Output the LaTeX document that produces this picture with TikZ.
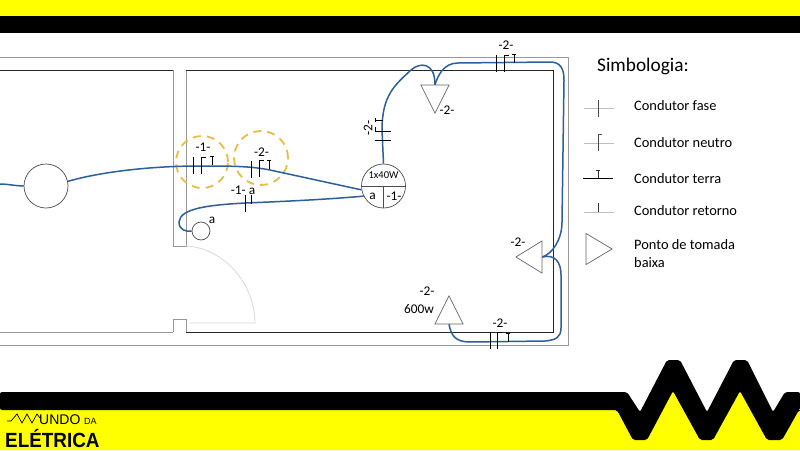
\documentclass[tikz,border=0pt]{standalone}
\usepackage{fontspec}
\setmainfont{Carlito}
\newfontfamily\logofont{Liberation Sans}
\usetikzlibrary{shapes.geometric}
\definecolor{amarelo}{HTML}{FFFF00}
\definecolor{fio}{HTML}{2F5F9A}
\definecolor{ouro}{HTML}{E6BE45}
\tikzset{
	parede/.style={draw=black!40, line width=0.9pt},
	interna/.style={draw=black!85, line width=0.9pt},
	cabo/.style={draw=fio, line width=1.5pt},
	traco/.style={draw=black, line width=0.9pt},
	rotulo/.style={inner sep=0pt, font=\fontsize{13.3}{13.3}\selectfont},
	legenda/.style={inner sep=0pt, anchor=west, font=\fontsize{14.4}{18}\selectfont, align=left},
	tomada/.style={draw=black!60, line width=0.7pt, isosceles triangle, isosceles triangle stretches, inner sep=0pt, anchor=apex, minimum width=28pt, minimum height=28pt},
	lampada/.style={draw=black!70, line width=0.7pt, circle, inner sep=0pt},
	marca/.style={draw=ouro, line width=1.8pt, dash pattern=on 8pt off 6pt, circle, inner sep=0pt}
}
\begin{document}
\begin{tikzpicture}[x=1pt,y=-1pt]
	\useasboundingbox (0,0) rectangle (800,450);
	% Faixas
	\fill[white] (0,0) rectangle (800,450);
	\fill[amarelo] (0,0) rectangle (800,16);
	\fill[black] (0,16) rectangle (800,33);
	\fill[amarelo] (0,405) -- (617,405) -- (633,435) -- (647,435) -- (673,387) -- (700,435) -- (713,435) -- (740,387) -- (767,435) -- (782,435) -- (800,405) -- (800,450) -- (0,450) -- cycle;
	\fill[black, rounded corners=2pt] (0,392) -- (627,392) -- (640,412) -- (667,360) -- (680,360) -- (707,412) -- (734,360) -- (747,360) -- (773,412) -- (785,392) -- (800,392) -- (800,410) -- (799,410) -- (782,440) -- (767,440) -- (740,391) -- (713,440) -- (700,440) -- (673,391) -- (647,440) -- (633,440) -- (617,410) -- (0,410) -- cycle;
	% Paredes
	\draw[parede] (0,57) -- (568,57) -- (568,345) -- (0,345);
	\draw[parede] (173,70) -- (173,246) -- (186,246) -- (186,70);
	\draw[parede] (173,332) -- (173,319) -- (186,319) -- (186,332);
	\draw[interna] (0,70) -- (173,70) (186,70) -- (553,70) -- (553,332) -- (186,332);
	\draw[parede] (0,332) -- (173,332);
	% Porta
	\draw[black!15, line width=0.8pt] (186,246) .. controls (225,248) and (255,285) .. (255,323) -- (189,323);
	% Lampadas e interruptor
	\node[lampada, minimum size=44pt] (lampE) at (46,186) {};
	\node[lampada, minimum size=44pt] (lampD) at (383.5,186) {};
	\node[lampada, minimum size=18pt] (inter) at (201,231) {};
	\draw[black!70, line width=0.7pt] (lampD.west) -- (lampD.east) (lampD.center) -- (lampD.south);
	\node[rotulo, font=\fontsize{10.5}{12}\selectfont] (pot) at (383.5,175.5) {1x40W};
	\node[rotulo] (retA) at (372.5,196) {a};
	\node[rotulo] (cirA) at (394,196) {-1-};
	\node[rotulo] (retB) at (212,220) {a};
	% Tomadas
	\node[tomada, shape border rotate=270] (tomC) at (435,114) {};
	\node[tomada, shape border rotate=180, minimum height=26pt, minimum width=32pt] (tomD) at (515,257) {};
	\node[tomada, shape border rotate=90] (tomB) at (449,295) {};
	% Marcas
	\node[marca, minimum size=52pt] (marcaA) at (202,162) {};
	\node[marca, minimum size=54pt] (marcaB) at (261,158) {};
	% Fios
	\coordinate (fioE) at (0,184);
	\draw[cabo] (fioE) .. controls (8,184) and (16,186) .. (lampE.west);
	\draw[cabo] (lampE.12) .. controls (100,172) and (150,166) .. (200,166) .. controls (230,166) and (250,166) .. (270,170) -- (lampD.190);
	\draw[cabo] (lampD.207) .. controls (320,200) and (270,202) .. (245,203) .. controls (210,205) and (180,208) .. (179,222) .. controls (179,230) and (186,232) .. (inter.west);
	\draw[cabo] (lampD.north) -- (382,130) .. controls (382,95) and (395,85) .. (411,70) .. controls (420,62) and (435,62) .. (tomC.north);
	\draw[cabo] (tomC.north) .. controls (438,75) and (444,63) .. (458,63) -- (550,62) .. controls (560,62) and (564,68) .. (564,80) -- (562,222) .. controls (562,240) and (552,254) .. (tomD.east);
	\draw[cabo] (tomD.east) .. controls (555,254) and (561,262) .. (561,275) -- (561,328) .. controls (561,338) and (555,340) .. (545,341) -- (470,342) .. controls (455,342) and (451,335) .. (tomB.south);
	% Fase, neutro, terra, retorno
	\foreach \x/\y in {193/157, 251/161, 245/195, 496/55, 490/332} {
		\draw[traco] (\x,\y) -- +(0,17);
	}
	\foreach \x/\y in {201/157, 259/160, 504/55, 497/332} {
		\draw[traco] (\x,\y+17) -- (\x,\y) -- +(4.5,0);
	}
	\foreach \x/\y in {212/156, 269/160, 514/54, 508/333} {
		\draw[traco] (\x,\y) -- +(0,9) (\x-2,\y) -- +(4,0);
	}
	\draw[traco] (251,195) -- (251,204);
	\draw[traco] (375,140) -- (391,140);
	\draw[traco] (391,131) -- (375,131) -- (375,127);
	\draw[traco] (375,120) -- (383,120) (375,118) -- (375,122);
	% Rotulos
	\foreach \n/\x/\y/\t in {ra/203/147/-1-, rb/261.5/152/-2-, rc/506/45/-2-, rd/447/110/-2-, re/518/242/-2-, rf/427/291/-2-, rg/419/309/600w, rh/500/323/-2-} {
		\node[rotulo] (\n) at (\x,\y) {\t};
	}
	\node[rotulo] (ri) at (243,190) {-1- a};
	\node[rotulo, rotate=90] (rj) at (368,128) {-2-};
	% Simbologia
	\node[inner sep=0pt, anchor=west, font=\fontsize{19.3}{19.3}\selectfont] (simb) at (597,66) {Simbologia:};
	\foreach \n/\y/\t in {lfase/106/Condutor fase, lneutro/143/Condutor neutro, lterra/179/Condutor terra, lretorno/211/Condutor retorno} {
		\node[legenda] (\n) at (634,\y) {\t};
	}
	\node[legenda] (ltomada) at (634,254) {Ponto de tomada\\baixa};
	\node[tomada, shape border rotate=0, minimum width=31pt, minimum height=26pt] (simbT) at (613,249) {};
	\draw[black!25, line width=1pt] (584,108) -- (614,108) (584,143) -- (614,143) (584,212) -- (614,212);
	\draw[black, line width=1pt] (583,178) -- (613,178);
	\draw[black!70, line width=0.9pt] (598,100) -- (598,117);
	\draw[black!70, line width=0.9pt] (598,151) -- (598,134) -- (602,134);
	\draw[black!80, line width=0.9pt] (598,178) -- (598,170) (596,170) -- (600,170);
	\draw[black!80, line width=0.9pt] (598,212) -- (598,203);
	% Logo
	\draw[black, line width=0.7pt] (7,421) -- (11,421) -- (17,414) -- (22,423) -- (27,414) -- (32,423) -- (37,414) -- (40,418);
	\node[inner sep=0pt, anchor=base west, font=\logofont\fontsize{14}{14}\selectfont] (logoA) at (39,424) {UNDO};
	\node[inner sep=0pt, anchor=base west, font=\logofont\fontsize{9}{9}\selectfont] (logoB) at (84,424) {DA};
	\node[inner sep=0pt, anchor=base west, xscale=0.92, font=\logofont\bfseries\fontsize{20.5}{21}\selectfont] (logoC) at (5,447) {ELÉTRICA};
\end{tikzpicture}
\end{document}
